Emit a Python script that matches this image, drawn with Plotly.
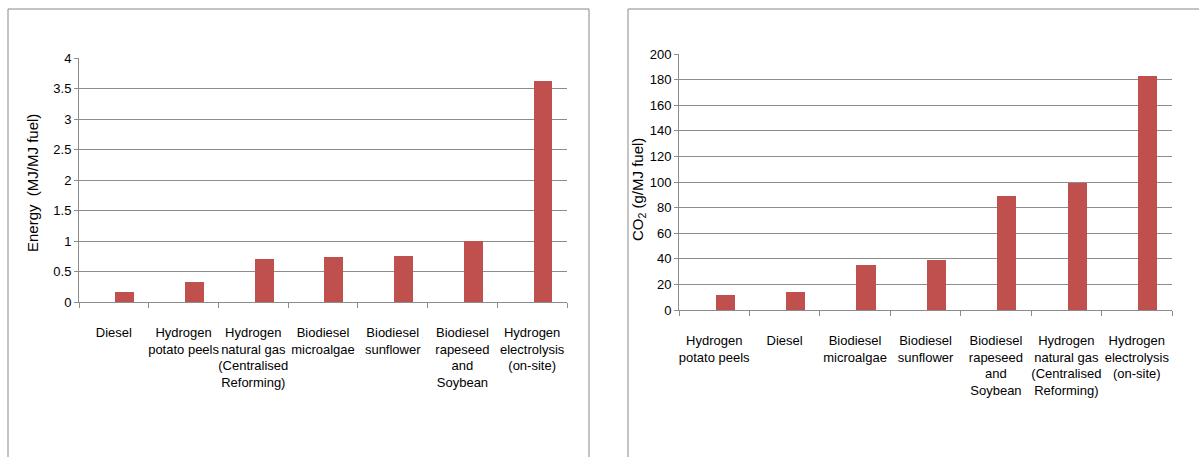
import plotly.graph_objects as go

W, H = 1199, 457

# Left chart: energy
energy_labels = ["Diesel", "Hydrogen<br>potato peels",
                 "Hydrogen<br>natural gas<br>(Centralised<br>Reforming)",
                 "Biodiesel<br>microalgae", "Biodiesel<br>sunflower",
                 "Biodiesel<br>rapeseed<br>and<br>Soybean",
                 "Hydrogen<br>electrolysis<br>(on-site)"]
energy_values = [0.16, 0.32, 0.71, 0.73, 0.75, 1.0, 3.62]
energy_ticks = [0, 0.5, 1, 1.5, 2, 2.5, 3, 3.5, 4]
energy_ticktext = ["0", "0.5", "1", "1.5", "2", "2.5", "3", "3.5", "4"]

# Right chart: CO2
co2_labels = ["Hydrogen<br>potato peels", "Diesel", "Biodiesel<br>microalgae",
              "Biodiesel<br>sunflower",
              "Biodiesel<br>rapeseed<br>and<br>Soybean",
              "Hydrogen<br>natural gas<br>(Centralised<br>Reforming)",
              "Hydrogen<br>electrolysis<br>(on-site)"]
co2_values = [12, 14, 35, 39, 89, 99, 183]
co2_ticks = list(range(0, 201, 20))

BAR = "#C0504D"
GRID = "#8C8C8C"
FONT = "Liberation Sans, Arial, sans-serif"

def px(x):
    return x / W

def py(y):
    return (H - y) / H

fig = go.Figure()
fig.add_trace(go.Bar(x=energy_labels, y=energy_values, marker_color=BAR,
                     marker_line_width=0, width=0.27, offset=0.02,
                     xaxis="x", yaxis="y", showlegend=False))
fig.add_trace(go.Bar(x=co2_labels, y=co2_values, marker_color=BAR,
                     marker_line_width=0, width=0.27, offset=0.02,
                     xaxis="x2", yaxis="y2", showlegend=False))

xcommon = dict(type="category", showgrid=False, showline=True, linecolor=GRID,
               linewidth=1, ticks="outside", tickson="boundaries", ticklen=5,
               tickcolor=GRID, ticklabelstandoff=18, tickangle=0,
               tickfont=dict(family=FONT, size=13, color="#000"),
               automargin=False, fixedrange=True)
ycommon = dict(showgrid=True, gridcolor=GRID, gridwidth=1, showline=True,
               linecolor=GRID, linewidth=1, ticks="outside", ticklen=4,
               tickcolor=GRID, zeroline=False,
               tickfont=dict(family=FONT, size=13, color="#000"),
               automargin=False, fixedrange=True)

fig.update_layout(
    width=W, height=H,
    margin=dict(l=0, r=0, t=0, b=0),
    paper_bgcolor="white", plot_bgcolor="white",
    bargap=0,
    xaxis=dict(domain=[px(79), px(567)], anchor="y", **xcommon),
    yaxis=dict(domain=[py(302), py(58)], anchor="x", range=[0, 4.0001],
               tickvals=energy_ticks, ticktext=energy_ticktext, **ycommon),
    xaxis2=dict(domain=[px(679), px(1172)], anchor="y2", **xcommon),
    yaxis2=dict(domain=[py(310), py(54)], anchor="x2", range=[0, 200.05],
                tickvals=co2_ticks, **ycommon),
    shapes=[
        dict(type="rect", xref="paper", yref="paper", x0=px(8), x1=px(589),
             y0=py(470), y1=py(9), line=dict(color="#888", width=1)),
        dict(type="rect", xref="paper", yref="paper", x0=px(628), x1=px(1215),
             y0=py(470), y1=py(9), line=dict(color="#888", width=1)),
    ],
    annotations=[
        dict(text="Energy  (MJ/MJ fuel)", textangle=-90, xref="paper",
             yref="paper", x=px(33), y=py(183), xanchor="center",
             yanchor="middle", showarrow=False,
             font=dict(family=FONT, size=15, color="#000")),
        dict(text="CO<sub>2</sub> (g/MJ fuel)", textangle=-90, xref="paper",
             yref="paper", x=px(638), y=py(190), xanchor="center",
             yanchor="middle", showarrow=False,
             font=dict(family=FONT, size=15, color="#000")),
    ],
)

fig.write_html("out.html", config={"displayModeBar": False},
               post_script="document.body.style.margin='0';"
                           "document.body.style.overflow='hidden';")
